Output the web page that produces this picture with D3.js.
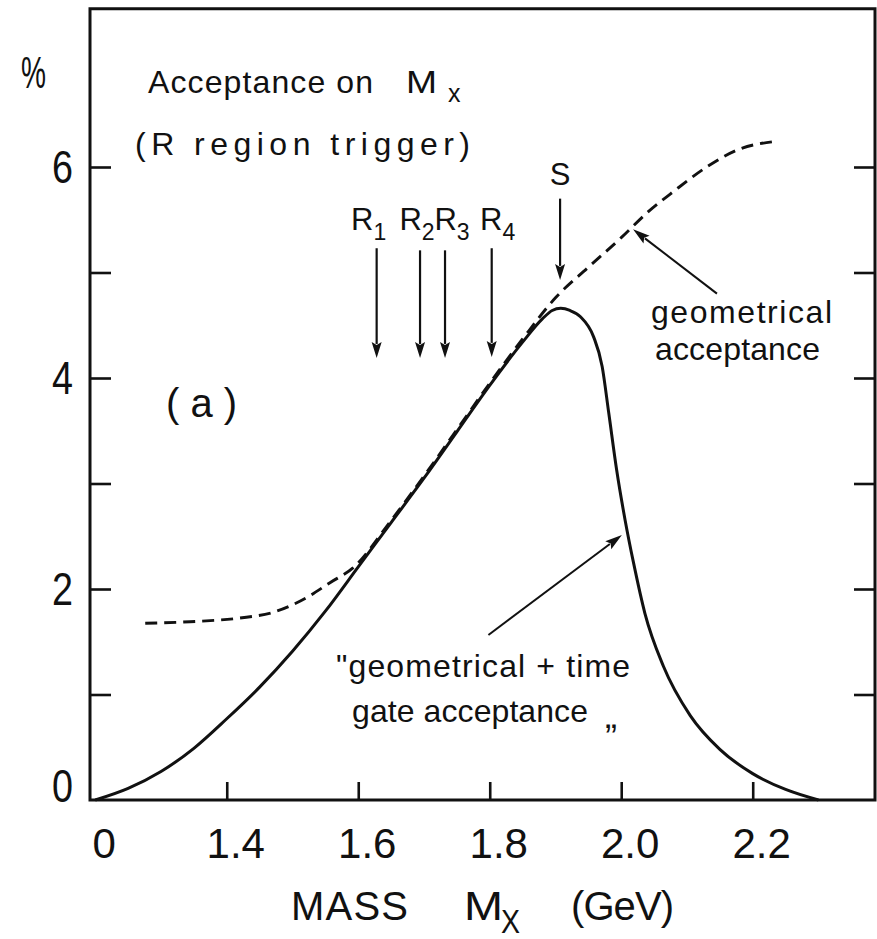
<!DOCTYPE html>
<html>
<head>
<meta charset="utf-8">
<script src="https://cdn.jsdelivr.net/npm/d3@7"></script>
<style>
  html, body { margin: 0; padding: 0; background: #fff; }
  svg { display: block; }
  text { font-family: "Liberation Sans", Arial, sans-serif; fill: #111; }
</style>
</head>
<body>
<svg id="chart" width="877" height="939"></svg>
<script>
// Acceptance (%) versus mass M_X (GeV), geometrical + time gate
const gateMass = [1.200, 1.250, 1.300, 1.350, 1.400, 1.450, 1.500, 1.550, 1.600, 1.650,
                  1.700, 1.750, 1.800, 1.850, 1.880, 1.895, 1.908, 1.922, 1.938, 1.958,
                  1.971, 1.981, 1.993, 2.006, 2.019, 2.036, 2.064, 2.105, 2.150, 2.200,
                  2.250, 2.300];
const gateAcc  = [0.00, 0.11, 0.27, 0.49, 0.77, 1.07, 1.41, 1.79, 2.21, 2.63,
                  3.05, 3.49, 3.93, 4.34, 4.56, 4.64, 4.66, 4.64, 4.58, 4.39,
                  4.11, 3.67, 3.13, 2.65, 2.24, 1.77, 1.27, 0.80, 0.48, 0.25,
                  0.10, 0.00];

// Geometrical acceptance (%) alone
const geomMass = [1.276, 1.344, 1.420, 1.471, 1.522, 1.557, 1.592, 1.650, 1.700, 1.750,
                  1.800, 1.850, 1.900, 1.950, 2.000, 2.040, 2.080, 2.130, 2.180, 2.232];
const geomAcc  = [1.675, 1.69, 1.725, 1.78, 1.92, 2.06, 2.20, 2.65, 3.07, 3.51,
                  3.95, 4.37, 4.76, 5.05, 5.33, 5.57, 5.77, 6.00, 6.17, 6.24];

// Axis ticks and labels
const xTickValues = [1.4, 1.6, 1.8, 2.0, 2.2];
const xLabelValues = [1.2, 1.4, 1.6, 1.8, 2.0, 2.2];
const xLabelText = ["0", "1.4", "1.6", "1.8", "2.0", "2.2"];
const yTickValues = [1, 2, 3, 4, 5, 6];
const yLabelValues = [0, 2, 4, 6];
const yLabelText = ["0", "2", "4", "6"];

// Trigger region markers (arrows pointing down onto the curve)
const markerName = ["R", "R", "R", "R", "S"];
const markerSub  = ["1", "2", "3", "4", ""];
const markerMass = [1.628, 1.694, 1.732, 1.803, 1.907];
const markerTop  = [5.23, 5.21, 5.21, 5.23, 5.70];
const markerTip  = [4.19, 4.19, 4.19, 4.20, 4.93];

const svg = d3.select("#chart");
svg.append("rect").attr("width", 877).attr("height", 939).attr("fill", "#fff");

const x = d3.scaleLinear().domain([1.192, 2.386]).range([90, 875]);
const y = d3.scaleLinear().domain([0, 7.5]).range([800, 8.75]);

const ink = "#111";

// Frame
svg.append("rect")
  .attr("x", x.range()[0]).attr("y", y.range()[1])
  .attr("width", x.range()[1] - x.range()[0])
  .attr("height", y.range()[0] - y.range()[1])
  .attr("fill", "none").attr("stroke", ink).attr("stroke-width", 3);

// Inward ticks
function styleAxis(g) {
  g.select(".domain").remove();
  g.selectAll(".tick line").attr("stroke", ink).attr("stroke-width", 2.6);
  g.selectAll(".tick text").remove();
}
svg.append("g").attr("transform", `translate(0,${y(0)})`)
  .call(d3.axisBottom(x).tickValues(xTickValues).tickSize(-18).tickFormat(""))
  .call(styleAxis);
svg.append("g").attr("transform", `translate(${x.range()[0]},0)`)
  .call(d3.axisLeft(y).tickValues(yTickValues).tickSize(-21).tickFormat(""))
  .call(styleAxis);
svg.append("g").attr("transform", `translate(${x.range()[1]},0)`)
  .call(d3.axisRight(y).tickValues(yTickValues).tickSize(-21).tickFormat(""))
  .call(styleAxis);

// Tick labels
svg.append("g").selectAll("text").data(xLabelValues).join("text")
  .attr("x", d => x(d) + 9).attr("y", 858)
  .attr("text-anchor", "middle").attr("font-size", 42)
  .text((d, i) => xLabelText[i]);
svg.append("g").selectAll("text").data(yLabelValues).join("text")
  .attr("x", 73).attr("y", d => y(d) + (d === 0 ? 2 : 16))
  .attr("text-anchor", "end").attr("font-size", 46)
  .attr("textLength", 21).attr("lengthAdjust", "spacingAndGlyphs")
  .text((d, i) => yLabelText[i]);

// Curves
const line = d3.line().x(d => x(d[0])).y(d => y(d[1])).curve(d3.curveMonotoneX);
svg.append("path")
  .datum(d3.zip(geomMass, geomAcc))
  .attr("d", line).attr("fill", "none").attr("stroke", ink)
  .attr("stroke-width", 2.9).attr("stroke-dasharray", "12,7");
svg.append("path")
  .datum(d3.zip(gateMass, gateAcc))
  .attr("d", line).attr("fill", "none").attr("stroke", ink)
  .attr("stroke-width", 3);

// Arrow helper: line from (x1,y1) to tip (x2,y2) with a filled narrow head
function arrow(x1, y1, x2, y2, len = 15, half = 4.5, w = 2) {
  const dx = x2 - x1, dy = y2 - y1, L = Math.hypot(dx, dy);
  const ux = dx / L, uy = dy / L;
  const bx = x2 - ux * len, by = y2 - uy * len;
  svg.append("line").attr("x1", x1).attr("y1", y1).attr("x2", bx + ux * 2).attr("y2", by + uy * 2)
    .attr("stroke", ink).attr("stroke-width", w);
  svg.append("path")
    .attr("d", `M${x2},${y2}L${bx - uy * half},${by + ux * half}L${bx + ux * 3},${by + uy * 3}L${bx + uy * half},${by - ux * half}Z`)
    .attr("fill", ink);
}

// Region markers
const markerDx = [-8, -3, 7, 6, 0];
markerMass.forEach((m, i) => {
  arrow(x(m), y(markerTop[i]), x(m), y(markerTip[i]), 16, 5, 2.2);
  const lx = x(m) + markerDx[i];
  const g = svg.append("text").attr("x", lx).attr("y", markerSub[i] ? 230 : 185)
    .attr("text-anchor", "middle").attr("font-size", 31);
  g.append("tspan").text(markerName[i]);
  if (markerSub[i]) {
    g.append("tspan").attr("dy", 10).attr("font-size", 23).text(markerSub[i]);
  }
});

// Pointers to the curves
arrow(x(2.1456), y(4.80), x(2.018), y(5.41), 17, 5, 2);
arrow(x(1.798), y(1.564), x(2.001), y(2.512), 17, 5, 2);

// Text annotations
function label(txt, px, py, size, len, adjust) {
  const t = svg.append("text").attr("x", px).attr("y", py).attr("font-size", size).text(txt);
  if (len) t.attr("textLength", len).attr("lengthAdjust", adjust || "spacing");
  return t;
}
label("%", 21, 88, 44, 25, "spacingAndGlyphs");
label("Acceptance on", 148, 93, 32, 225);
label("M", 406, 93, 32, 31, "spacingAndGlyphs");
label("x", 448, 102, 25);
label("(R region trigger)", 135, 155, 32, 335);
label("(a)", 166, 417, 40, 71);
label("geometrical", 651, 323, 32, 181);
label("acceptance", 655, 360, 32, 165);
label("\"geometrical + time", 336, 677, 32, 294);
label("gate acceptance", 352, 722, 32, 236);
label("\u201E", 605, 728, 36);

// Axis title
label("MASS", 291, 920, 40, 117);
label("M", 464, 920, 40, 39, "spacingAndGlyphs");
label("X", 501, 933, 34, 19, "spacingAndGlyphs");
label("(GeV)", 571, 920, 40, 103);
</script>
</body>
</html>
